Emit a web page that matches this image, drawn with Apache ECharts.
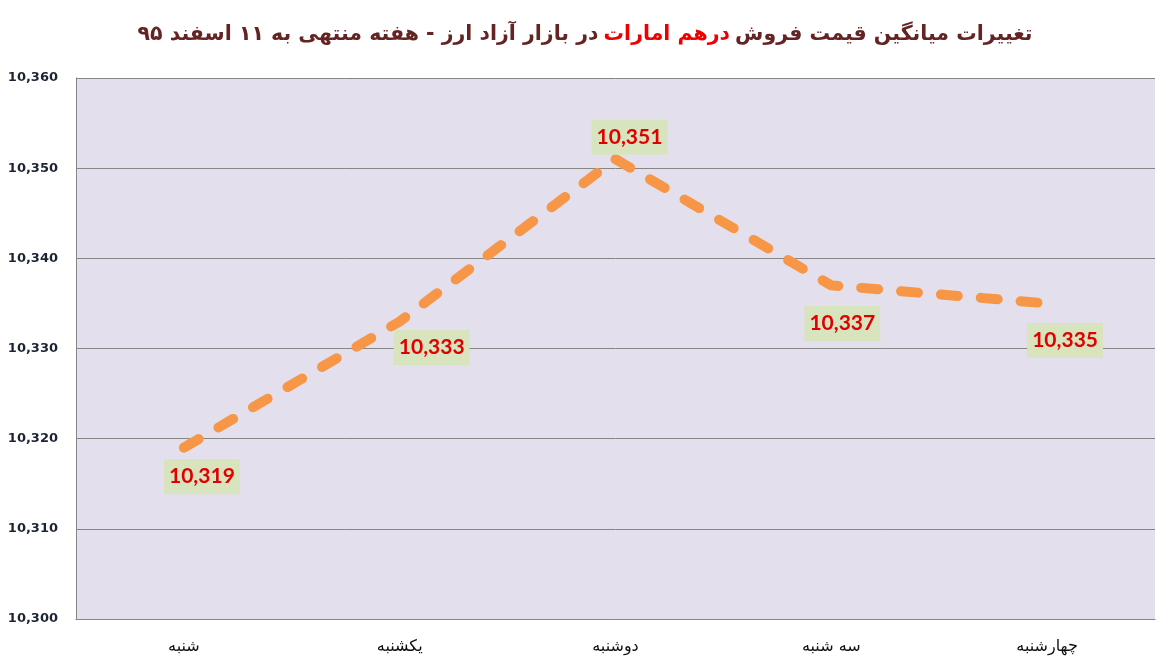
<!DOCTYPE html>
<html>
<head>
<meta charset="utf-8">
<script src="https://cdn.jsdelivr.net/npm/echarts@6/dist/echarts.min.js"></script>
<style>
html,body{margin:0;padding:0;background:#fff;}
#chart{width:1170px;height:669px;}
</style>
</head>
<body>
<div id="chart"></div>
<script>
const categories = ['شنبه', 'یکشنبه', 'دوشنبه', 'سه شنبه', 'چهارشنبه'];
const prices = [10319, 10333, 10351, 10337, 10335];
const titleStart = 'تغییرات میانگین قیمت فروش';
const titleHighlight = 'درهم امارات';
const titleEnd = 'در بازار آزاد ارز - هفته منتهی به ۱۱ اسفند ۹۵';

const labelOffsets = [[18, 29], [32, 26], [14, -22], [11, 38], [18, 37]];

const chart = echarts.init(document.getElementById('chart'));
chart.setOption({
  backgroundColor: '#ffffff',
  title: {
    text: '{a|' + titleEnd + '} {b|' + titleHighlight + '} {a|' + titleStart + '}',
    left: 'center',
    top: 19,
    textStyle: {
      rich: {
        a: { fontFamily: 'DejaVu Sans', fontWeight: 'bold', fontSize: 20.5, color: '#632423' },
        b: { fontFamily: 'DejaVu Sans', fontWeight: 'bold', fontSize: 20.5, color: '#ee0000' }
      }
    }
  },
  grid: { left: 76, right: 15, top: 78, bottom: 50, containLabel: false,
          show: true, backgroundColor: '#e4dfec', borderWidth: 0 },
  xAxis: {
    type: 'category',
    data: categories,
    boundaryGap: true,
    axisLine: { show: true, lineStyle: { color: '#868686', width: 1 } },
    axisTick: { show: false },
    axisLabel: { margin: 20, color: '#111', fontSize: 16, fontFamily: 'DejaVu Sans' }
  },
  yAxis: {
    type: 'value',
    min: 10300,
    max: 10360,
    interval: 10,
    axisLine: { show: true, lineStyle: { color: '#868686', width: 1 } },
    axisTick: { show: false },
    splitLine: { show: true, lineStyle: { color: '#868686', width: 1 } },
    axisLabel: {
      margin: 18, color: '#1c2433', fontSize: 13, fontWeight: 'bold', fontFamily: 'DejaVu Sans',
      formatter: v => v.toLocaleString('en-US')
    }
  },
  series: [{
    type: 'line',
    data: prices.map((v, i) => ({
      value: v,
      label: { offset: labelOffsets[i] }
    })),
    symbol: 'circle',
    symbolSize: 1,
    showSymbol: true,
    itemStyle: { color: 'rgba(0,0,0,0)' },
    lineStyle: { color: '#f79646', width: 10, type: [17, 23], cap: 'round', join: 'round' },
    label: {
      show: true,
      position: 'inside',
      formatter: p => p.value.toLocaleString('en-US'),
      color: '#e00000',
      fontSize: 21,
      fontWeight: 'bold',
      fontFamily: 'Lato',
      backgroundColor: '#d7e4bd',
      padding: [8, 5, 6, 5]
    },
    animation: false
  }],
  animation: false
});
</script>
</body>
</html>
